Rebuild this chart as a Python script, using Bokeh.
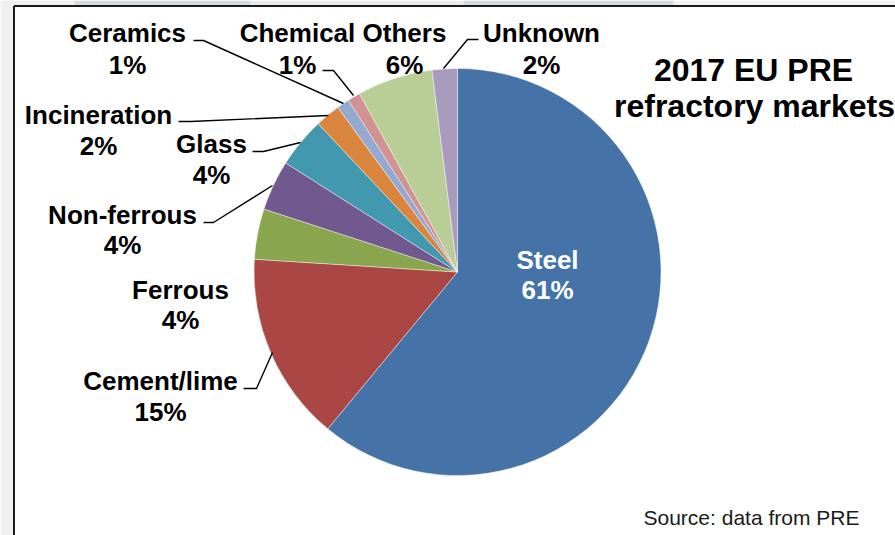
import math
from bokeh.plotting import figure
from bokeh.models import Range1d, ColumnDataSource
from bokeh.core.properties import value
from bokeh.embed import file_html
from bokeh.resources import INLINE

# ---------------- data ----------------
categories = ["Steel", "Cement/lime", "Ferrous", "Non-ferrous", "Glass",
              "Incineration", "Ceramics", "Chemical", "Others", "Unknown"]
shares = [61, 15, 4, 4, 4, 2, 1, 1, 6, 2]
slice_colors = ["#4572A7", "#AA4643", "#89A54E", "#71588F", "#4198AF",
                "#DB843D", "#93A9CF", "#D19392", "#B9CD96", "#A99BBD"]
title_lines = ["2017 EU PRE", "refractory markets"]
source_note = "Source: data from PRE"

# ---------------- layout (screen px of the 895x535 picture) ----------------
OX, OY = 0, 0
W, H = 895, 535
CX, CY, R = 457, 271.5, 203.5
FONT = "Liberation Sans"
TDY = -8  # baseline correction for text glyphs

# label anchor: (center x, baseline of name, baseline of percent)
label_pos = {
    "Steel": (547, 267, 297),
    "Cement/lime": (160, 388, 419),
    "Ferrous": (180, 297, 327),
    "Non-ferrous": (122, 222, 252),
    "Glass": (211, 151, 182),
    "Incineration": (98, 122, 153),
    "Ceramics": (127, 40, 72),
    "Chemical": (297, 40, 72),
    "Others": (404, 40, 72),
    "Unknown": (541, 40, 72),
}
leaders = {
    "Ceramics": ([193, 203, 343], [40, 40, 103]),
    "Incineration": ([178, 190, 328], [121, 121, 115]),
    "Glass": ([252, 263, 300], [151, 151, 142]),
    "Non-ferrous": ([203, 213, 272], [222, 222, 185]),
    "Cement/lime": ([243, 256, 272], [388, 388, 352]),
    "Chemical": ([322, 333, 353], [70, 70, 95]),
    "Unknown": ([478, 467, 443], [39, 39, 68]),
}
# background panels above the chart box: (left, right, color)
top_panels = [(0, 74, "#F0F0F0"), (74, 251, "#D6DADF"), (251, 463, "#E9ECEF"),
              (463, 673, "#D6DADF"), (673, 895, "#F3F3F3")]

p = figure(width=W, height=H,
           x_range=Range1d(OX, OX + W), y_range=Range1d(-(OY + H), -OY),
           x_axis_type=None, y_axis_type=None,
           output_backend="svg", toolbar_location=None, min_border=0)
p.grid.visible = False
p.outline_line_color = None
p.background_fill_color = "white"
p.border_fill_color = "white"

# outside-of-chart grey areas and chart border
p.quad(left=0, right=13, top=0, bottom=-H, fill_color="#F0F0F0", line_color=None)
p.quad(left=[a for a, b, c in top_panels], right=[b for a, b, c in top_panels],
       top=0, bottom=-5, fill_color=[c for a, b, c in top_panels], line_color=None)
p.segment(x0=13.5, y0=-5.5, x1=13.5, y1=-H, line_color="#1a1a1a", line_width=2)
p.segment(x0=13.5, y0=-5.5, x1=W, y1=-5.5, line_color="#1a1a1a", line_width=2)

# pie slices (clockwise from 12 o'clock)
total = float(sum(shares))
starts, ends = [], []
cum = 0.0
for v in shares:
    s = cum / total
    cum += v
    e = cum / total
    starts.append(math.pi / 2 - 2 * math.pi * e)
    ends.append(math.pi / 2 - 2 * math.pi * s)
src = ColumnDataSource(dict(start=starts, end=ends, color=slice_colors, cat=categories))
p.wedge(x=CX, y=-CY, radius=R, start_angle="start", end_angle="end",
        fill_color="color", line_color="white", line_width=0.6, line_alpha=0.7, source=src)

# leader lines
xs, ys = [], []
for cat in categories:
    if cat in leaders:
        lx, ly = leaders[cat]
        xs.append(lx)
        ys.append([-v for v in ly])
p.multi_line(xs=xs, ys=ys, line_color="black", line_width=1.4)

# labels
nx, ny, px, py, names, pcts, tcol = [], [], [], [], [], [], []
for cat, v in zip(categories, shares):
    x, yb1, yb2 = label_pos[cat]
    names.append(cat)
    pcts.append(f"{v}%")
    nx.append(x); ny.append(-(yb1 + TDY))
    px.append(x); py.append(-(yb2 + TDY))
    tcol.append("white" if cat == "Steel" else "black")
p.text(x=nx + px, y=ny + py, text=names + pcts, text_color=tcol + tcol,
       text_font=value(FONT), text_font_style="bold", text_font_size="26px",
       text_align="center", text_baseline="alphabetic")

# title
p.text(x=[753, 754], y=[-(77 + TDY), -(113 + TDY)], text=title_lines, text_color="black",
       text_font=value(FONT), text_font_style="bold", text_font_size="32px",
       text_align="center", text_baseline="alphabetic")

# source note
p.text(x=[643], y=[-(525 + TDY)], text=[source_note], text_color="#1a1a1a",
       text_font=value(FONT), text_font_size="21px",
       text_align="left", text_baseline="alphabetic")

open("out.html", "w").write(file_html(p, INLINE))
